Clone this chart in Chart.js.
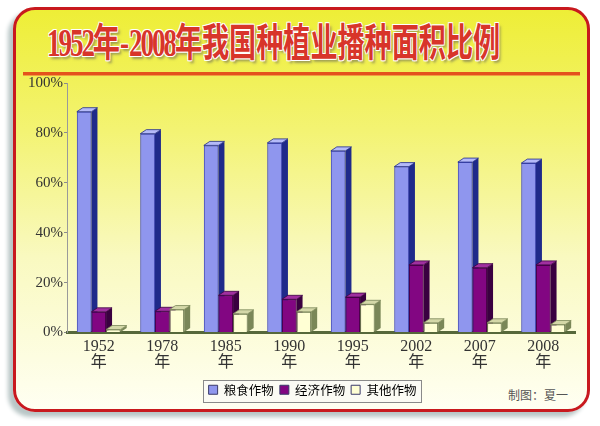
<!DOCTYPE html>
<html><head><meta charset="utf-8">
<script src="https://cdn.jsdelivr.net/npm/chart.js@4.4.1/dist/chart.umd.min.js"></script>
<style>
html,body{margin:0;padding:0;background:#fff;width:600px;height:426px;overflow:hidden}
#frame{position:absolute;left:13px;top:7px;width:571px;height:399px;border:3px solid #c8191e;border-radius:22px;
 background:linear-gradient(#eeee36 0%,#f3f372 30%,#f9f9c0 62%,#fffff2 100%);box-shadow:-5px 5px 4px #b9c6c6;}
#title{position:absolute;left:47px;top:21px;font-family:"Liberation Serif","Noto Sans CJK SC",serif;font-weight:bold;font-size:39px;line-height:44px;
 color:#d8352a;white-space:nowrap;transform:scaleX(0.695);transform-origin:0 0;
 text-shadow:1px 1px 0 #fff,-1px -1px 0 #fff,1px -1px 0 #fff,-1px 1px 0 #fff,3px 3px 3px rgba(90,90,90,0.55);}
#title .d{letter-spacing:-3px}
#rule{position:absolute;left:23px;top:72px;width:557px;height:3px;background:#e4521c;box-shadow:0 1px 0 #f0a040}
#credit{position:absolute;left:508px;top:386px;font-family:"Noto Sans CJK SC",sans-serif;font-size:12px;color:#555}
#wrap{position:absolute;left:0;top:0;width:600px;height:426px}
</style></head>
<body>
<div id="frame"></div>
<div id="title"><span class="d">1952</span>年-<span class="d">2008</span>年我国种植业播种面积比例</div>
<div id="rule"></div>
<div id="credit">制图：夏一</div>
<div id="wrap"><canvas id="c" width="600" height="426"></canvas></div>
<script>
const years = ['1952','1978','1985','1990','1995','2002','2007','2008'];
const seriesNames = ['粮食作物','经济作物','其他作物'];
const grain = [88.5, 79.7, 75, 76, 72.8, 66.5, 68.3, 67.9];
const cash  = [8.3, 8.5, 14.9, 13.3, 14.2, 27.1, 26, 27.1];
const other = [1.2, 9.2, 7.5, 8.3, 11.3, 3.9, 3.9, 3.2];
const yStep = 20;

const faces = [
  {side:'#1f2a8a', top:'#b4baf8'},
  {side:'#3a0040', top:'#a030a0'},
  {side:'#7a8758', top:'#d4d8a8'}
];

const threeD = {
  id:'threeD',
  afterLayout(chart){
    const lg = chart.legend;
    if(lg){ lg.left += 25; lg.right += 25; }
  },
  beforeDraw(chart){
    const lg = chart.legend;
    if(!lg || !lg.legendHitBoxes || !lg.legendHitBoxes.length) return;
    const hb = lg.legendHitBoxes;
    let l=Infinity,r=-Infinity,t=Infinity,b=-Infinity;
    hb.forEach(h=>{l=Math.min(l,h.left);r=Math.max(r,h.left+h.width);t=Math.min(t,h.top);b=Math.max(b,h.top+h.height);});
    const ctx=chart.ctx;
    ctx.save();
    ctx.fillStyle='#fbfbf4';
    ctx.strokeStyle='#8a8a8a';
    ctx.lineWidth=1;
    const X=Math.round(l-6)+0.5, Y=Math.round(t-4)+0.5, W=Math.round(r-l+10), H=Math.round(b-t+9);
    ctx.fillRect(X,Y,W,H);
    ctx.strokeRect(X,Y,W,H);
    ctx.restore();
  },
  afterDatasetsDraw(chart){
    const ctx = chart.ctx;
    const dx=6, dy=4;
    chart.data.datasets.forEach((ds,i)=>{
      const meta = chart.getDatasetMeta(i);
      meta.data.forEach(el=>{
        const p = el.getProps(['x','y','base','width'],true);
        const l=p.x-p.width/2, r=p.x+p.width/2, y=p.y, base=p.base;
        el.draw(ctx);
        ctx.save();
        ctx.fillStyle=faces[i].side;
        ctx.beginPath();ctx.moveTo(r,y);ctx.lineTo(r+dx,y-dy);ctx.lineTo(r+dx,base-dy);ctx.lineTo(r,base);ctx.closePath();ctx.fill();
        ctx.fillStyle=faces[i].top;
        ctx.strokeStyle=faces[i].side;
        ctx.lineWidth=0.8;
        ctx.beginPath();ctx.moveTo(l,y);ctx.lineTo(l+dx,y-dy);ctx.lineTo(r+dx,y-dy);ctx.lineTo(r,y);ctx.closePath();ctx.fill();ctx.stroke();
        ctx.restore();
      });
    });
  }
};

new Chart(document.getElementById('c'), {
  type:'bar',
  data:{
    labels: years.map(y=>[y,'年']),
    datasets:[
      {label:seriesNames[0], data:grain, backgroundColor:'#8f96ee', borderColor:'#4a52b8', borderWidth:1},
      {label:seriesNames[1], data:cash,  backgroundColor:'#820682', borderColor:'#4a004a', borderWidth:1},
      {label:seriesNames[2], data:other, backgroundColor:'#ffffd4', borderColor:'#6e7a50', borderWidth:1}
    ]
  },
  options:{
    responsive:false,
    animation:false,
    devicePixelRatio:1,
    layout:{padding:{left:0,right:25,top:83,bottom:20}},
    datasets:{bar:{categoryPercentage:0.69,barPercentage:1.0}},
    plugins:{
      legend:{
        position:'bottom',
        labels:{
          boxWidth:9, boxHeight:9, padding:6,
          font:{family:'"Noto Sans CJK SC", sans-serif', size:12.5},
          color:'#333',
          generateLabels(chart){
            return chart.data.datasets.map((d,i)=>({
              text:d.label, fillStyle:d.backgroundColor, strokeStyle:'#3a3a6a', lineWidth:1, datasetIndex:i, hidden:false
            }));
          }
        }
      },
      tooltip:{enabled:false}
    },
    scales:{
      x:{
        grid:{display:false},
        border:{display:true,color:'#56683a',width:3},
        ticks:{color:'#333',font:{family:'"Liberation Serif", "Noto Sans CJK SC", serif',size:16,lineHeight:1.0},padding:-2,maxRotation:0},
        afterFit(s){s.height=45;}
      },
      y:{
        min:0,max:100,
        grid:{drawOnChartArea:false,drawTicks:true,tickLength:3,color:'#8a8a8a'},
        border:{display:true,color:'#9a9a9a',width:1},
        ticks:{stepSize:yStep,color:'#333',font:{family:'"Liberation Serif", serif',size:15},padding:1,callback:v=>v+'%'},
        afterFit(s){s.width=67;}
      }
    }
  },
  plugins:[threeD]
});
</script>
</body></html>
